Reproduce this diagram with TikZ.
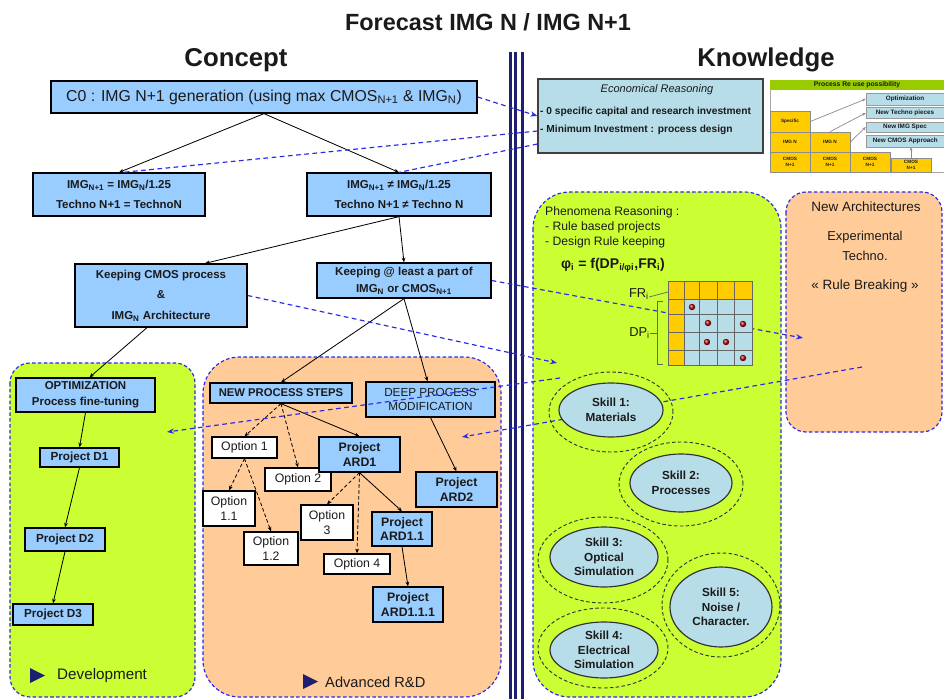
\documentclass[tikz,border=0pt]{standalone}
\usepackage{fontspec}
\setmainfont{Liberation Sans}
\usetikzlibrary{arrows.meta,shapes.geometric}
\newdimen\pxu \pxu=0.03cm
\definecolor{boxblue}{HTML}{99CCFF}
\definecolor{lgreen}{HTML}{CCFF33}
\definecolor{lorange}{HTML}{FFCC99}
\definecolor{paleteal}{HTML}{B7DDE8}
\definecolor{dblue}{HTML}{2A2AE6}
\definecolor{navyc}{HTML}{1F1F70}
\definecolor{goldc}{HTML}{FFCC00}
\definecolor{hgreen}{HTML}{99CC00}
\definecolor{txt}{HTML}{1A1A1A}
\definecolor{reddot}{HTML}{B00000}
\newcommand\fsz[2]{\fontsize{#1}{#2}\selectfont}
\begin{document}
\begin{tikzpicture}[x=0.03cm,y=-0.03cm,
  bbox/.style={draw=black, line width=1.1pt, fill=boxblue, inner sep=0pt, align=center, text=txt},
  wbox/.style={draw=black, line width=1.1pt, fill=white, inner sep=0pt, align=center, text=txt},
  panel/.style={draw=dblue, line width=1pt, dash pattern=on 3pt off 2pt},
  conn/.style={draw=black, line width=0.7pt, -{Stealth[length=4pt,width=3.2pt]}},
  dconn/.style={conn, dash pattern=on 3pt off 2pt},
  bl/.style={draw=dblue, line width=1pt, dash pattern=on 4pt off 3pt},
  bla/.style={bl, -{Stealth[length=6pt,width=4.5pt]}},
  skill/.style={ellipse, draw=black!80, line width=1pt, fill=paleteal, inner sep=0pt, align=center, text=txt, font=\bfseries\fsz{10}{12.5}},
  ring/.style={draw=black!80, line width=0.8pt, dash pattern=on 3pt off 2pt},
  tcell/.style={draw=black!45, line width=0.5pt, fill=goldc, inner sep=0pt, align=center, text=txt, font=\bfseries\fsz{4}{5}},
  tlab/.style={draw=black!40, line width=0.5pt, fill=paleteal, inner sep=0pt, text=txt, font=\bfseries\fsz{5.4}{6}},
  tconn/.style={draw=black!45, line width=0.6pt, -{Stealth[length=3pt,width=2.5pt]}}
]
\useasboundingbox (0,0) rectangle (944,699);
\fill[white] (0,0) rectangle (944,699);

% ---------- panels
\draw[panel, fill=lgreen, rounded corners=0.6cm] (10,363) rectangle (195,697);
\draw[panel, fill=lorange, rounded corners=1.1cm] (203,357) rectangle (501,697);
\draw[panel, fill=lgreen, rounded corners=1.1cm] (533,192) rectangle (781,697);
\draw[panel, fill=lorange, rounded corners=0.6cm] (786,192) rectangle (942,432);

% ---------- divider
\draw[navyc, line width=2.1pt] (510.5,52) -- (510.5,699);
\draw[navyc, line width=2.1pt] (515.5,52) -- (515.5,699);
\draw[navyc, line width=2.3pt] (522.5,52) -- (522.5,699);

% ---------- titles
\node[font=\bfseries\fsz{20}{24}, text=txt] (title) at (488,22) {Forecast IMG N / IMG N+1};
\node[font=\bfseries\fsz{22}{26}, text=txt] (concept) at (236,60) {Concept};
\node[font=\bfseries\fsz{22}{26}, text=txt] (knowledge) at (766,60) {Knowledge};

% ---------- coordinates for free ends
\coordinate (l4e) at (557,363);
\coordinate (l5e) at (803,338);
\coordinate (l6s) at (560,378);
\coordinate (l6e) at (167,432);
\coordinate (l7s) at (862,367);
\coordinate (l7e) at (462,437);

% ---------- concept tree
\node[bbox, minimum width=426\pxu, minimum height=32\pxu, font=\fsz{13.5}{16}] (c0) at (264,97)
  {C0 : IMG N+1 generation (using max CMOS\textsubscript{N+1} \& IMG\textsubscript{N})};
\node[bbox, minimum width=172\pxu, minimum height=43\pxu, font=\bfseries\fsz{9.8}{17}] (imgL) at (119,194.5)
  {IMG\textsubscript{N+1} = IMG\textsubscript{N}/1.25\\Techno N+1 = TechnoN};
\node[bbox, minimum width=184\pxu, minimum height=43\pxu, font=\bfseries\fsz{9.8}{17}] (imgR) at (399,194.5)
  {IMG\textsubscript{N+1} ≠ IMG\textsubscript{N}/1.25\\Techno N+1 ≠ Techno N};
\node[bbox, minimum width=172\pxu, minimum height=63\pxu, font=\bfseries\fsz{9.8}{17.5}] (keepC) at (161,295.5)
  {Keeping CMOS process\\\&\\IMG\textsubscript{N} Architecture};
\node[bbox, minimum width=174\pxu, minimum height=35\pxu, font=\bfseries\fsz{9.8}{14.5}] (keepA) at (404,280.5)
  {Keeping @ least a part of\\IMG\textsubscript{N} or CMOS\textsubscript{N+1}};

% development
\node[bbox, minimum width=139\pxu, minimum height=34\pxu, font=\bfseries\fsz{9.8}{13.6}] (opt) at (85.5,395)
  {OPTIMIZATION\\Process fine-tuning};
\node[bbox, minimum width=79\pxu, minimum height=19\pxu, font=\bfseries\fsz{10}{12}] (d1) at (79.5,457.5) {Project D1};
\node[bbox, minimum width=80\pxu, minimum height=23\pxu, font=\bfseries\fsz{10}{12}] (d2) at (65,539.5) {Project D2};
\node[bbox, minimum width=80\pxu, minimum height=21\pxu, font=\bfseries\fsz{10}{12}] (d3) at (53,614.5) {Project D3};

% advanced R&D
\node[bbox, minimum width=142\pxu, minimum height=20\pxu, font=\bfseries\fsz{9.6}{12}] (nps) at (281,393) {NEW PROCESS STEPS};
\node[bbox, minimum width=129\pxu, minimum height=35\pxu, font=\fsz{10}{12}] (deep) at (430.5,399.5) {DEEP PROCESS\\MODIFICATION};
\node[wbox, minimum width=65\pxu, minimum height=21\pxu, font=\fsz{10.5}{12.5}] (opt1) at (244.5,447.5) {Option 1};
\node[wbox, minimum width=66\pxu, minimum height=23\pxu, font=\fsz{10.5}{12.5}] (opt2) at (298,479.5) {Option 2};
\node[bbox, minimum width=81\pxu, minimum height=35\pxu, font=\bfseries\fsz{10.5}{12.5}] (ard1) at (359.5,454.5) {Project\\ARD1};
\node[bbox, minimum width=81\pxu, minimum height=35\pxu, font=\bfseries\fsz{10.5}{12.5}] (ard2) at (456.5,489.5) {Project\\ARD2};
\node[wbox, minimum width=52\pxu, minimum height=35\pxu, font=\fsz{10.5}{13}] (opt11) at (229,508.5) {Option\\1.1};
\node[wbox, minimum width=54\pxu, minimum height=33\pxu, font=\fsz{10.5}{13}] (opt12) at (271,548.5) {Option\\1.2};
\node[wbox, minimum width=52\pxu, minimum height=35\pxu, font=\fsz{10.5}{13}] (opt3) at (327,522.5) {Option\\3};
\node[bbox, minimum width=60\pxu, minimum height=34\pxu, font=\bfseries\fsz{10.5}{12.5}] (ard11) at (402,529) {Project\\ARD1.1};
\node[wbox, minimum width=66\pxu, minimum height=20\pxu, font=\fsz{10.5}{12.5}] (opt4) at (357,564) {Option 4};
\node[bbox, minimum width=70\pxu, minimum height=35\pxu, font=\bfseries\fsz{10.5}{12.5}] (ard111) at (408,604.5) {Project\\ARD1.1.1};

% panel labels
\fill[navyc] (30,668) -- (45,675.5) -- (30,683) -- cycle;
\node[anchor=west, font=\fsz{13}{15}, text=txt, inner sep=0pt] (devlab) at (57,676) {Development};
\fill[navyc] (303,674) -- (318,681.5) -- (303,689) -- cycle;
\node[anchor=west, font=\fsz{12.5}{15}, text=txt, inner sep=0pt] (ardlab) at (325,682) {Advanced R\&D};

% ---------- black connectors
\draw[conn] (c0.south) -- (imgL.north);
\draw[conn] (c0.south) -- (imgR.north);
\draw[conn] (imgR.south) -- (keepA.north);
\draw[conn] (imgR.south) -- ([xshift=44\pxu]keepC.north);
\draw[conn] ([xshift=-14\pxu]keepC.south) -- ([xshift=4\pxu]opt.north);
\draw[conn] (keepA.south) -- (nps.north);
\draw[conn] (keepA.south) -- ([xshift=-3\pxu]deep.north);
\draw[conn] (opt.south) -- (d1.north);
\draw[conn] (d1.south) -- (d2.north);
\draw[conn] (d2.south) -- (d3.north);
\draw[dconn] (nps.south) -- (opt1.north);
\draw[dconn] (nps.south) -- (opt2.north);
\draw[conn] (nps.south) -- (ard1.north);
\draw[dconn] (opt1.south) -- (opt11.north);
\draw[dconn] (opt1.south) -- (opt12.north);
\draw[dconn] (ard1.south) -- (opt3.north);
\draw[dconn] (ard1.south) -- (opt4.north);
\draw[conn] (ard1.south) -- (ard11.north);
\draw[conn] (ard11.south) -- (ard111.north);
\draw[conn] (deep.south) -- (ard2.north);

% ---------- economical reasoning
\node[draw=black!75, line width=1pt, fill=paleteal, minimum width=225\pxu, minimum height=74\pxu, inner sep=0pt] (econ) at (650.5,116) {};
\node[font=\itshape\fsz{9.4}{11}, text=txt] (econT) at (657,90) {Economical Reasoning};
\node[anchor=west, inner sep=0pt, font=\bfseries\fsz{8.7}{10}, text=txt] (econ1) at (540,112) {- 0 specific capital and research investment};
\node[anchor=west, inner sep=0pt, font=\bfseries\fsz{8.7}{10}, text=txt] (econ2) at (540,130) {- Minimum Investment : process design};

% ---------- re-use table
\fill[white] (770,80) rectangle (944,172);
\draw[black!35, line width=0.5pt] (770,80) rectangle (944,172);
\fill[hgreen] (770,80) rectangle (944,90);
\node[font=\bfseries\fsz{5.8}{7}, text=txt] (thead) at (857,85) {Process Re use possibility};
\node[tcell, minimum width=40\pxu, minimum height=21\pxu] (tsp) at (790,121.5) {Specific};
\node[tcell, minimum width=40\pxu, minimum height=20\pxu] (timg1) at (790,142) {IMG N};
\node[tcell, minimum width=40\pxu, minimum height=20\pxu] (timg2) at (830,142) {IMG N};
\node[tcell, minimum width=40\pxu, minimum height=20\pxu] (tc1) at (790,162) {CMOS\\N+1};
\node[tcell, minimum width=40\pxu, minimum height=20\pxu] (tc2) at (830,162) {CMOS\\N+1};
\node[tcell, minimum width=40\pxu, minimum height=20\pxu] (tc3) at (870,162) {CMOS\\N+1};
\node[tcell, minimum width=40\pxu, minimum height=14\pxu] (tc4) at (911,165) {CMOS\\N+1};
\begin{scope}
\clip (770,80) rectangle (944,172);
\node[tlab, minimum width=78\pxu, minimum height=12\pxu] (lopt) at (905,99) {Optimization};
\node[tlab, minimum width=78\pxu, minimum height=11\pxu] (ltech) at (905,113) {New Techno pieces};
\node[tlab, minimum width=78\pxu, minimum height=10\pxu] (limg) at (905,127) {New IMG Spec};
\node[tlab, minimum width=78\pxu, minimum height=12\pxu, anchor=west] (lcmos) at (866,141) {New CMOS Approach};
\end{scope}
\draw[tconn] (tsp.east) -- (lopt.west);
\draw[tconn] (timg2.north) -- (ltech.west);
\draw[tconn] (timg2.east) -- (limg.west);
\draw[tconn] (tc4.north) -- (tc4.north |- lcmos.south);

% ---------- phenomena reasoning
\node[anchor=north west, align=left, inner sep=0pt, font=\fsz{10.4}{13}, text=txt] (phenT) at (545,206)
  {Phenomena Reasoning :\\- Rule based projects\\- Design Rule keeping};
\node[font=\bfseries\fsz{12}{14}, text=txt] (phi) at (613,265) {φ\textsubscript{i} = f(DP\textsubscript{i/φi},FR\textsubscript{i})};

% lines passing behind matrix and skills
\draw[bla] (keepA.east) -- (l5e);
\draw[bla] (l7s) -- (l7e);

% matrix
\fill[paleteal] (668,281) rectangle (752,365);
\fill[goldc] (668,281) rectangle (752,299);
\fill[goldc] (668,281) rectangle (684,365);
\draw[black!60, line width=0.8pt] (668,281) rectangle (752,365);
\foreach \xx in {684,699,717,734} \draw[black!60, line width=0.8pt] (\xx,281) -- (\xx,365);
\foreach \yy in {299,314,332,350} \draw[black!60, line width=0.8pt] (668,\yy) -- (752,\yy);
\foreach \p in {(692,307),(708,323),(743,324),(707,342),(726,342),(743,358)}
  \shade[ball color=reddot] \p circle[radius=3.2\pxu];
\coordinate (matfr) at (668,292);
\node[anchor=east, inner sep=0pt, font=\fsz{11}{13}, text=txt] (frl) at (649,294) {FR\textsubscript{i}};
\draw[black!60, line width=0.6pt] (frl.east) ++(0,3) -- (matfr);
\node[anchor=east, inner sep=0pt, font=\fsz{11}{13}, text=txt] (dpl) at (650,333) {DP\textsubscript{i}};
\draw[black!60, line width=0.6pt] (663,301) -- (657,301) -- (657,364) -- (663,364);
\draw[black!60, line width=0.6pt] (dpl.east) -- (657,333);

% skills
\draw[ring] (611,412) ellipse [x radius=62\pxu, y radius=40\pxu];
\draw[ring] (681,484) ellipse [x radius=62\pxu, y radius=42\pxu];
\draw[ring] (603,560) ellipse [x radius=65\pxu, y radius=43\pxu];
\draw[ring] (603,648) ellipse [x radius=65\pxu, y radius=40\pxu];
\draw[ring] (721,605) ellipse [x radius=59\pxu, y radius=52\pxu];
\node[skill, minimum width=104\pxu, minimum height=54\pxu] (s1) at (611,410) {Skill 1:\\Materials};
\node[skill, minimum width=102\pxu, minimum height=58\pxu] (s2) at (681,483) {Skill 2:\\Processes};
\node[skill, minimum width=108\pxu, minimum height=60\pxu] (s3) at (604,557) {Skill 3:\\Optical\\Simulation};
\node[skill, minimum width=108\pxu, minimum height=56\pxu] (s4) at (604,650) {Skill 4:\\Electrical\\Simulation};
\node[skill, minimum width=102\pxu, minimum height=80\pxu] (s5) at (721,607) {Skill 5:\\Noise /\\Character.};

% new architectures
\node[font=\fsz{11.5}{13}, text=txt] (naT) at (866,207) {New Architectures};
\node[font=\fsz{11}{17}, align=center, text=txt] (naE) at (865,246) {Experimental\\Techno.};
\node[font=\fsz{11.5}{13}, text=txt] (naR) at (865,286) {« Rule Breaking »};

% ---------- blue dashed links
\draw[bla] (c0.east) -- (econ.west);
\draw[bl] ([yshift=-15\pxu]econ.west) -- ([xshift=4\pxu]imgL.north);
\draw[bl] ([yshift=-28\pxu]econ.west) -- (imgR.north);
\draw[bla] (keepC.east) -- (l4e);
\draw[bla] (l6s) -- (l6e);
\end{tikzpicture}
\end{document}
